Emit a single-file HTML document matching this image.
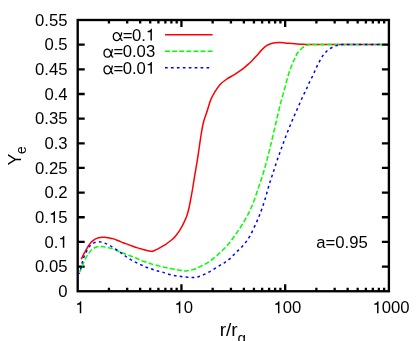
<!DOCTYPE html>
<html><head><meta charset="utf-8"><title>Ye plot</title>
<style>html,body{margin:0;padding:0;background:#fff;}svg{display:block;will-change:transform;}text{font-family:"Liberation Sans",sans-serif;fill:#000;}</style></head><body>
<svg width="416" height="341" viewBox="0 0 416 341">
<rect x="0" y="0" width="416" height="341" fill="#fff"/>
<path d="M108.93,291.25 v-3.60 M108.93,20.00 v3.60 M127.19,291.25 v-3.60 M127.19,20.00 v3.60 M140.15,291.25 v-3.60 M140.15,20.00 v3.60 M150.21,291.25 v-3.60 M150.21,20.00 v3.60 M158.42,291.25 v-3.60 M158.42,20.00 v3.60 M165.36,291.25 v-3.60 M165.36,20.00 v3.60 M171.38,291.25 v-3.60 M171.38,20.00 v3.60 M176.69,291.25 v-3.60 M176.69,20.00 v3.60 M181.43,291.25 v-7.00 M181.43,20.00 v7.00 M212.66,291.25 v-3.60 M212.66,20.00 v3.60 M230.93,291.25 v-3.60 M230.93,20.00 v3.60 M243.89,291.25 v-3.60 M243.89,20.00 v3.60 M253.94,291.25 v-3.60 M253.94,20.00 v3.60 M262.15,291.25 v-3.60 M262.15,20.00 v3.60 M269.10,291.25 v-3.60 M269.10,20.00 v3.60 M275.11,291.25 v-3.60 M275.11,20.00 v3.60 M280.42,291.25 v-3.60 M280.42,20.00 v3.60 M285.17,291.25 v-7.00 M285.17,20.00 v7.00 M316.39,291.25 v-3.60 M316.39,20.00 v3.60 M334.66,291.25 v-3.60 M334.66,20.00 v3.60 M347.62,291.25 v-3.60 M347.62,20.00 v3.60 M357.67,291.25 v-3.60 M357.67,20.00 v3.60 M365.89,291.25 v-3.60 M365.89,20.00 v3.60 M372.83,291.25 v-3.60 M372.83,20.00 v3.60 M378.85,291.25 v-3.60 M378.85,20.00 v3.60 M384.15,291.25 v-3.60 M384.15,20.00 v3.60 M77.70,266.59 h7.00 M388.90,266.59 h-7.00 M77.70,241.93 h7.00 M388.90,241.93 h-7.00 M77.70,217.27 h7.00 M388.90,217.27 h-7.00 M77.70,192.61 h7.00 M388.90,192.61 h-7.00 M77.70,167.95 h7.00 M388.90,167.95 h-7.00 M77.70,143.30 h7.00 M388.90,143.30 h-7.00 M77.70,118.64 h7.00 M388.90,118.64 h-7.00 M77.70,93.98 h7.00 M388.90,93.98 h-7.00 M77.70,69.32 h7.00 M388.90,69.32 h-7.00 M77.70,44.66 h7.00 M388.90,44.66 h-7.00" stroke="#000" stroke-width="2.3" fill="none"/>
<g fill="none" stroke-linejoin="round" stroke-width="1.5">
<path d="M81.30,259.20 C81.60,258.57 82.45,256.68 83.10,255.40 C83.75,254.12 84.47,252.85 85.20,251.50 C85.93,250.15 86.73,248.57 87.50,247.30 C88.27,246.03 89.03,244.88 89.80,243.90 C90.57,242.92 91.22,242.20 92.10,241.40 C92.98,240.60 94.00,239.72 95.10,239.10 C96.20,238.48 97.48,238.02 98.70,237.70 C99.92,237.38 101.18,237.25 102.40,237.20 C103.62,237.15 104.93,237.30 106.00,237.40 C107.07,237.50 107.53,237.55 108.80,237.80 C110.07,238.05 112.00,238.40 113.60,238.90 C115.20,239.40 116.80,240.15 118.40,240.80 C120.00,241.45 121.60,242.18 123.20,242.80 C124.80,243.42 126.40,243.93 128.00,244.50 C129.60,245.07 131.18,245.63 132.80,246.20 C134.42,246.77 136.17,247.42 137.70,247.90 C139.23,248.38 140.62,248.72 142.00,249.10 C143.38,249.48 144.75,249.88 146.00,250.20 C147.25,250.52 148.47,250.80 149.50,251.00 C150.53,251.20 151.75,251.33 152.20,251.40 L152.20,251.40 C152.67,251.20 154.03,250.63 155.00,250.20 C155.97,249.77 156.50,249.60 158.00,248.80 C159.50,248.00 162.58,246.23 164.00,245.40 C165.42,244.57 165.25,244.70 166.50,243.80 C167.75,242.90 170.02,241.27 171.50,240.00 C172.98,238.73 174.12,237.67 175.40,236.20 C176.68,234.73 178.05,232.93 179.20,231.20 C180.35,229.47 181.40,227.48 182.30,225.80 C183.20,224.12 183.97,222.43 184.60,221.10 C185.23,219.77 185.63,218.98 186.10,217.80 C186.57,216.62 186.92,215.63 187.40,214.00 C187.88,212.37 188.53,210.00 189.00,208.00 C189.47,206.00 189.82,204.00 190.20,202.00 C190.58,200.00 190.93,198.00 191.30,196.00 C191.67,194.00 191.83,193.38 192.40,190.00 C192.97,186.62 193.92,180.43 194.70,175.70 C195.48,170.97 196.35,166.28 197.10,161.60 C197.85,156.92 198.50,152.28 199.20,147.60 C199.90,142.92 200.57,137.82 201.30,133.50 C202.03,129.18 202.57,125.63 203.60,121.70 C204.63,117.77 206.32,113.53 207.50,109.90 C208.68,106.27 209.52,102.82 210.70,99.90 C211.88,96.98 213.10,94.90 214.60,92.40 C216.10,89.90 217.77,87.05 219.70,84.90 C221.63,82.75 223.83,81.18 226.20,79.50 C228.57,77.82 231.37,76.42 233.90,74.80 C236.43,73.18 239.38,71.23 241.40,69.80 C243.42,68.37 244.73,67.23 246.00,66.20 C247.27,65.17 248.03,64.47 249.00,63.60 C249.97,62.73 250.50,62.33 251.80,61.00 C253.10,59.67 255.13,57.45 256.80,55.60 C258.47,53.75 260.17,51.55 261.80,49.90 C263.43,48.25 264.85,46.80 266.60,45.70 C268.35,44.60 270.15,43.82 272.30,43.30 C274.45,42.78 277.38,42.67 279.50,42.60 C281.62,42.53 283.08,42.77 285.00,42.90 C286.92,43.03 289.00,43.23 291.00,43.40 C293.00,43.57 295.00,43.75 297.00,43.90 C299.00,44.05 301.00,44.20 303.00,44.30 C305.00,44.40 307.00,44.47 309.00,44.50 C311.00,44.53 309.83,44.50 315.00,44.50 C320.17,44.50 328.82,44.50 340.00,44.50 C351.18,44.50 375.08,44.50 382.10,44.50" stroke="#ff0000"/>
<path d="M79.80,272.00 C79.92,271.67 80.00,271.23 80.50,270.00 C81.00,268.77 81.97,266.52 82.80,264.60 C83.63,262.68 84.48,260.40 85.50,258.50 C86.52,256.60 87.95,254.58 88.90,253.20 C89.85,251.82 90.23,251.12 91.20,250.20 C92.17,249.28 93.38,248.32 94.70,247.70 C96.02,247.08 97.60,246.67 99.10,246.50 C100.60,246.33 102.25,246.53 103.70,246.70 C105.15,246.87 106.15,247.10 107.80,247.50 C109.45,247.90 111.67,248.40 113.60,249.10 C115.53,249.80 117.32,250.83 119.40,251.70 C121.48,252.57 124.02,253.50 126.10,254.30 C128.18,255.10 129.97,255.77 131.90,256.50 C133.83,257.23 136.35,258.08 137.70,258.70 C139.05,259.32 138.62,259.65 140.00,260.20 C141.38,260.75 144.00,261.35 146.00,262.00 C148.00,262.65 150.00,263.48 152.00,264.10 C154.00,264.72 156.00,265.18 158.00,265.70 C160.00,266.22 162.00,266.75 164.00,267.20 C166.00,267.65 167.98,268.02 170.00,268.40 C172.02,268.78 174.08,269.15 176.10,269.50 C178.12,269.85 180.45,270.25 182.10,270.50 C183.75,270.75 184.22,271.15 186.00,271.00 C187.78,270.85 190.45,270.33 192.80,269.60 C195.15,268.87 197.67,267.72 200.10,266.60 C202.53,265.48 204.97,264.43 207.40,262.90 C209.83,261.37 212.60,259.08 214.70,257.40 C216.80,255.72 218.23,254.45 220.00,252.80 C221.77,251.15 223.53,249.40 225.30,247.50 C227.07,245.60 228.98,243.45 230.60,241.40 C232.22,239.35 233.53,237.27 235.00,235.20 C236.47,233.13 237.93,231.20 239.40,229.00 C240.87,226.80 242.48,224.20 243.80,222.00 C245.12,219.80 246.13,218.00 247.30,215.80 C248.47,213.60 249.62,211.50 250.80,208.80 C251.98,206.10 253.22,202.85 254.40,199.60 C255.58,196.35 256.82,192.48 257.90,189.30 C258.98,186.12 259.93,183.43 260.90,180.50 C261.87,177.57 262.82,174.63 263.70,171.70 C264.58,168.77 265.40,165.83 266.20,162.90 C267.00,159.97 267.77,157.03 268.50,154.10 C269.23,151.17 270.02,147.73 270.60,145.30 C271.18,142.87 271.37,142.17 272.00,139.50 C272.63,136.83 273.62,132.62 274.40,129.30 C275.18,125.98 275.93,122.83 276.70,119.60 C277.47,116.37 278.27,112.98 279.00,109.90 C279.73,106.82 280.28,104.18 281.10,101.10 C281.92,98.02 283.00,94.67 283.90,91.40 C284.80,88.13 285.60,84.77 286.50,81.50 C287.40,78.23 288.28,74.82 289.30,71.80 C290.32,68.78 291.70,65.57 292.60,63.40 C293.50,61.23 293.88,60.53 294.70,58.80 C295.52,57.07 296.27,54.80 297.50,53.00 C298.73,51.20 300.85,49.13 302.10,48.00 C303.35,46.87 304.12,46.68 305.00,46.20 C305.88,45.72 306.65,45.37 307.40,45.10 C308.15,44.83 308.73,44.70 309.50,44.60 C310.27,44.50 306.92,44.52 312.00,44.50 C317.08,44.48 328.32,44.50 340.00,44.50 C351.68,44.50 375.08,44.50 382.10,44.50" stroke="#00ff00" stroke-dasharray="5 2.28" stroke-dashoffset="1.2"/>
<path d="M79.20,273.80 C79.47,272.92 80.32,270.28 80.80,268.50 C81.28,266.72 81.63,264.90 82.10,263.10 C82.57,261.30 82.92,259.53 83.60,257.70 C84.28,255.87 85.28,253.90 86.20,252.10 C87.12,250.30 87.88,248.40 89.10,246.90 C90.32,245.40 91.83,243.95 93.50,243.10 C95.17,242.25 97.27,241.80 99.10,241.80 C100.93,241.80 102.72,242.48 104.50,243.10 C106.28,243.72 108.03,244.55 109.80,245.50 C111.57,246.45 113.42,247.72 115.10,248.80 C116.78,249.88 118.30,250.87 119.90,252.00 C121.50,253.13 123.10,254.45 124.70,255.60 C126.30,256.75 127.82,257.87 129.50,258.90 C131.18,259.93 133.05,260.92 134.80,261.80 C136.55,262.68 138.23,263.35 140.00,264.20 C141.77,265.05 143.60,266.15 145.40,266.90 C147.20,267.65 149.00,268.07 150.80,268.70 C152.60,269.33 154.40,270.17 156.20,270.70 C158.00,271.23 159.55,271.32 161.60,271.90 C163.65,272.48 166.07,273.55 168.50,274.20 C170.93,274.85 173.65,275.37 176.20,275.80 C178.75,276.23 181.18,276.50 183.80,276.80 C186.42,277.10 189.48,277.62 191.90,277.60 C194.32,277.58 196.02,277.33 198.30,276.70 C200.58,276.07 203.17,274.95 205.60,273.80 C208.03,272.65 210.47,271.23 212.90,269.80 C215.33,268.37 218.18,266.45 220.20,265.20 C222.22,263.95 223.42,263.35 225.00,262.30 C226.58,261.25 228.18,260.20 229.70,258.90 C231.22,257.60 232.63,255.97 234.10,254.50 C235.57,253.03 237.03,251.55 238.50,250.10 C239.97,248.65 241.58,247.25 242.90,245.80 C244.22,244.35 245.23,243.02 246.40,241.40 C247.57,239.78 248.73,238.17 249.90,236.10 C251.07,234.03 252.22,231.50 253.40,229.00 C254.58,226.50 255.97,223.43 257.00,221.10 C258.03,218.77 258.73,217.20 259.60,215.00 C260.47,212.80 261.30,210.48 262.20,207.90 C263.10,205.32 264.10,202.47 265.00,199.50 C265.90,196.53 266.73,193.12 267.60,190.10 C268.47,187.08 269.32,184.18 270.20,181.40 C271.08,178.62 271.93,176.33 272.90,173.40 C273.87,170.47 274.98,166.87 276.00,163.80 C277.02,160.73 277.97,157.93 279.00,155.00 C280.03,152.07 281.12,149.17 282.20,146.20 C283.28,143.23 284.37,140.17 285.50,137.20 C286.63,134.23 287.82,131.33 289.00,128.40 C290.18,125.47 291.42,122.38 292.60,119.60 C293.78,116.82 294.93,114.33 296.10,111.70 C297.27,109.07 298.43,106.45 299.60,103.80 C300.77,101.15 301.98,98.18 303.10,95.80 C304.22,93.42 305.32,91.58 306.30,89.50 C307.28,87.42 307.90,85.65 309.00,83.30 C310.10,80.95 311.77,77.82 312.90,75.40 C314.03,72.98 314.87,70.78 315.80,68.80 C316.73,66.82 317.58,65.27 318.50,63.50 C319.42,61.73 320.28,59.88 321.30,58.20 C322.32,56.52 323.33,54.88 324.60,53.40 C325.87,51.92 327.33,50.45 328.90,49.30 C330.47,48.15 332.48,47.18 334.00,46.50 C335.52,45.82 336.75,45.52 338.00,45.20 C339.25,44.88 340.33,44.72 341.50,44.60 C342.67,44.48 341.92,44.52 345.00,44.50 C348.08,44.48 353.82,44.50 360.00,44.50 C366.18,44.50 378.42,44.50 382.10,44.50" stroke="#0000ff" stroke-dasharray="2.7 3.23" stroke-dashoffset="1.35"/>
<path d="M165,34.8 H212.6" stroke="#ff0000"/>
<path d="M165,51.3 H212.6" stroke="#00ff00" stroke-dasharray="5 2.1"/>
<path d="M165,67.7 H212.0" stroke="#0000ff" stroke-dasharray="2.7 3.23"/>
</g>
<rect x="77.70" y="20.00" width="311.20" height="271.25" fill="none" stroke="#000" stroke-width="2.35"/>
<text x="58.31" y="297.05" font-size="16.70">0</text>
<text x="35.10" y="272.39" font-size="16.70">0.05</text>
<text x="44.39" y="247.73" font-size="16.70">0.</text><path transform="translate(58.31,247.73) scale(0.00815,-0.00815)" d="M555 0H735V1452H618C573 1290 451 1198 209 1163V1034H555Z"/>
<text x="35.10" y="223.07" font-size="16.70">0.</text><path transform="translate(49.03,223.07) scale(0.00815,-0.00815)" d="M555 0H735V1452H618C573 1290 451 1198 209 1163V1034H555Z"/><text x="58.31" y="223.07" font-size="16.70">5</text>
<text x="44.39" y="198.41" font-size="16.70">0.2</text>
<text x="35.10" y="173.75" font-size="16.70">0.25</text>
<text x="44.39" y="149.10" font-size="16.70">0.3</text>
<text x="35.10" y="124.44" font-size="16.70">0.35</text>
<text x="44.39" y="99.78" font-size="16.70">0.4</text>
<text x="35.10" y="75.12" font-size="16.70">0.45</text>
<text x="44.39" y="50.46" font-size="16.70">0.5</text>
<text x="35.10" y="25.80" font-size="16.70">0.55</text>
<path transform="translate(75.26,313.20) scale(0.00815,-0.00815)" d="M555 0H735V1452H618C573 1290 451 1198 209 1163V1034H555Z"/>
<path transform="translate(174.35,313.20) scale(0.00815,-0.00815)" d="M555 0H735V1452H618C573 1290 451 1198 209 1163V1034H555Z"/><text x="183.63" y="313.20" font-size="16.70">0</text>
<path transform="translate(273.44,313.20) scale(0.00815,-0.00815)" d="M555 0H735V1452H618C573 1290 451 1198 209 1163V1034H555Z"/><text x="282.72" y="313.20" font-size="16.70">00</text>
<path transform="translate(372.53,313.20) scale(0.00815,-0.00815)" d="M555 0H735V1452H618C573 1290 451 1198 209 1163V1034H555Z"/><text x="381.81" y="313.20" font-size="16.70">000</text>
<path transform="translate(112.30,40.60) scale(16.7000,-16.7000)" d="M0.565,0.49 C0.51,0.20 0.42,0.0 0.275,0.0 C0.135,0.0 0.06,0.09 0.06,0.24 C0.06,0.385 0.135,0.48 0.275,0.48 C0.42,0.48 0.475,0.27 0.52,0.08 C0.535,0.025 0.56,0.0 0.615,0.012" fill="none" stroke="#000" stroke-width="0.078" stroke-linecap="butt" stroke-linejoin="round"/><text x="122.83" y="40.60" font-size="16.70">=</text>
<text x="131.99" y="40.60" font-size="16.70">0.</text><path transform="translate(145.91,40.60) scale(0.00815,-0.00815)" d="M555 0H735V1452H618C573 1290 451 1198 209 1163V1034H555Z"/>
<path transform="translate(103.01,57.20) scale(16.7000,-16.7000)" d="M0.565,0.49 C0.51,0.20 0.42,0.0 0.275,0.0 C0.135,0.0 0.06,0.09 0.06,0.24 C0.06,0.385 0.135,0.48 0.275,0.48 C0.42,0.48 0.475,0.27 0.52,0.08 C0.535,0.025 0.56,0.0 0.615,0.012" fill="none" stroke="#000" stroke-width="0.078" stroke-linecap="butt" stroke-linejoin="round"/><text x="113.55" y="57.20" font-size="16.70">=</text>
<text x="122.70" y="57.20" font-size="16.70">0.03</text>
<path transform="translate(103.01,73.80) scale(16.7000,-16.7000)" d="M0.565,0.49 C0.51,0.20 0.42,0.0 0.275,0.0 C0.135,0.0 0.06,0.09 0.06,0.24 C0.06,0.385 0.135,0.48 0.275,0.48 C0.42,0.48 0.475,0.27 0.52,0.08 C0.535,0.025 0.56,0.0 0.615,0.012" fill="none" stroke="#000" stroke-width="0.078" stroke-linecap="butt" stroke-linejoin="round"/><text x="113.55" y="73.80" font-size="16.70">=</text>
<text x="122.70" y="73.80" font-size="16.70">0.0</text><path transform="translate(145.91,73.80) scale(0.00815,-0.00815)" d="M555 0H735V1452H618C573 1290 451 1198 209 1163V1034H555Z"/>
<text x="316.3" y="247.5" font-size="16.70">a=0.95</text>
<text transform="translate(20.5,165.6) rotate(-90)" font-size="18.00">Y<tspan dx="-0.4" dy="5.75" font-size="13.86">e</tspan></text>
<text x="219.65" y="336.4" font-size="19.00">r/r<tspan dy="6.6" font-size="15.20">g</tspan></text>
</svg></body></html>
